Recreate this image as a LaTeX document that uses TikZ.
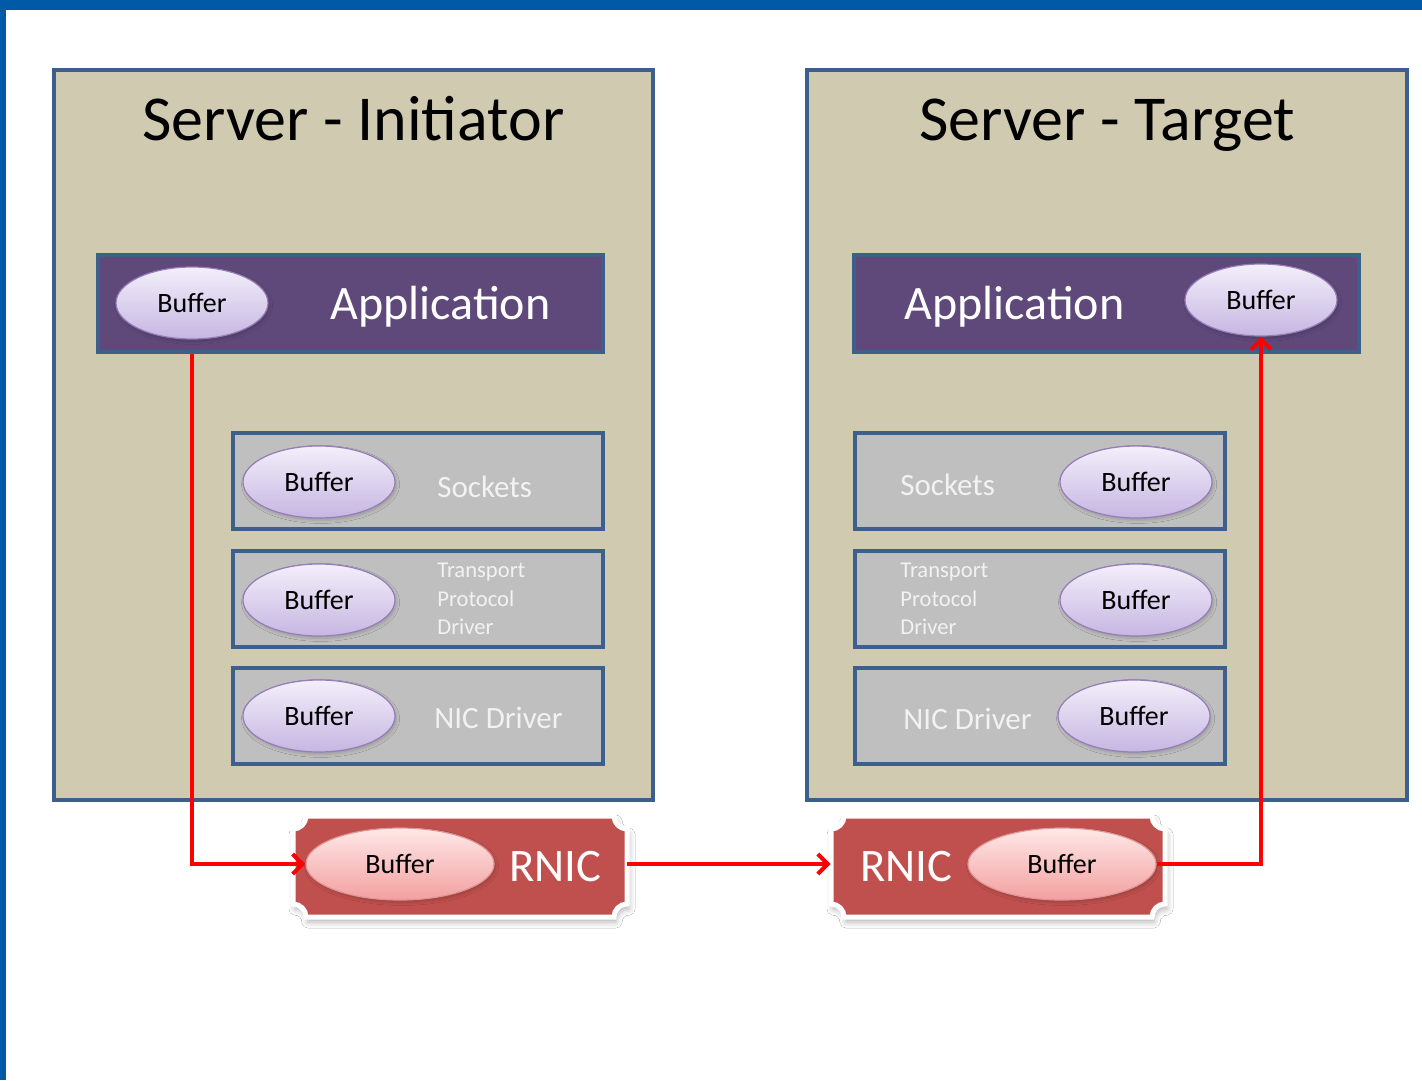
\documentclass[tikz,border=0pt]{standalone}
\usepackage{fontspec}
\setmainfont{Carlito}
\usetikzlibrary{shapes.geometric,arrows.meta,shadows.blur}

\definecolor{frameblue}{RGB}{0,90,168}
\definecolor{servertan}{RGB}{207,202,176}
\definecolor{edgeblue}{RGB}{60,95,140}
\definecolor{appviolet}{RGB}{95,73,122}
\definecolor{layergrey}{RGB}{191,191,191}
\definecolor{rnicred}{RGB}{192,80,77}
\definecolor{buftop}{RGB}{243,239,250}
\definecolor{bufbot}{RGB}{198,182,226}
\definecolor{bufedge}{RGB}{150,125,185}
\definecolor{rbuftop}{RGB}{255,232,232}
\definecolor{rbufbot}{RGB}{243,160,160}
\definecolor{rbufedge}{RGB}{225,150,150}
\definecolor{lighttext}{RGB}{242,242,242}

\begin{document}
\begin{tikzpicture}[x=0.5pt,y=-0.5pt,
  server/.style={draw=edgeblue, line width=1.6pt, fill=servertan, inner sep=0,
    minimum width=299.5pt, minimum height=365pt},
  appbar/.style={draw=edgeblue, line width=1.6pt, fill=appviolet, inner sep=0,
    minimum width=252.5pt, minimum height=48.5pt},
  layer/.style={draw=edgeblue, line width=2pt, fill=layergrey, inner sep=0,
    minimum width=185pt, minimum height=48pt},
  buf/.style={ellipse, draw=bufedge, line width=0.6pt, top color=buftop, bottom color=bufbot,
    minimum width=76pt, minimum height=36pt, inner sep=0, font=\fontsize{14}{16}\selectfont,
    blur shadow={shadow xshift=0.8pt, shadow yshift=-1.2pt, shadow blur radius=1.5pt, shadow opacity=18}},
  rbuf/.style={buf, draw=rbufedge, top color=rbuftop, bottom color=rbufbot, minimum width=94pt},
  plaque/.style={fill=rnicred, draw=white, line width=2.5pt,
    blur shadow={shadow xshift=1pt, shadow yshift=-2.5pt, shadow blur radius=3pt, shadow opacity=30}},
  title/.style={anchor=base, inner sep=0, font=\fontsize{32}{38}\selectfont},
  apptext/.style={anchor=base west, inner sep=0, text=white, font=\fontsize{24}{28}\selectfont},
  layertext/.style={anchor=base west, inner sep=0, text=lighttext, font=\fontsize{15.5}{18}\selectfont},
  smalltext/.style={anchor=west, inner sep=0, text=lighttext, align=left, font=\fontsize{11.3}{14.25}\selectfont},
  rnictext/.style={anchor=base west, inner sep=0, text=white, font=\fontsize{23.3}{28}\selectfont},
  link/.style={draw=red, line width=2pt, -{Straight Barb[length=5pt,width=10pt]}}
]
% page and frame
\useasboundingbox (0,0) rectangle (1422,1080);
\fill[white] (0,0) rectangle (1422,1080);
\fill[frameblue] (0,0) rectangle (1422,10);
\fill[frameblue] (0,0) rectangle (6,1080);

% servers
\node[server] (srvL) at (353.5,435) {};
\node[server, minimum width=300pt] (srvR) at (1107,435) {};
\node[title] (titleL) at (353.5,141) {Server - Initiator};
\node[title] (titleR) at (1107,141) {Server - Target};

% application bars
\node[appbar] (appL) at (350.5,303.5) {};
\node[appbar] (appR) at (1106.5,303.5) {};
\node[apptext] (appTxtL) at (330,320) {Application};
\node[apptext] (appTxtR) at (904,320) {Application};
\node[buf] (appBufL) at (192,303) {Buffer};
\node[buf] (appBufR) at (1261,300) {Buffer};

% stack layers, initiator side
\node[layer] (sockL) at (418,481) {};
\node[layer] (tpdL) at (418,599) {};
\node[layer] (nicL) at (418,716) {};
\node[buf] (sockBufL) at (319,482) {Buffer};
\node[buf] (tpdBufL) at (319,600) {Buffer};
\node[buf] (nicBufL) at (319,716) {Buffer};
\node[layertext] (sockTxtL) at (437,497) {Sockets};
\node[smalltext] (tpdTxtL) at (437,599) {Transport\\Protocol\\Driver};
\node[layertext] (nicTxtL) at (434,728) {NIC Driver};

% stack layers, target side
\node[layer] (sockR) at (1039.5,481) {};
\node[layer] (tpdR) at (1039.5,599) {};
\node[layer] (nicR) at (1039.5,716) {};
\node[buf] (sockBufR) at (1136,482) {Buffer};
\node[buf] (tpdBufR) at (1136,600) {Buffer};
\node[buf] (nicBufR) at (1134,716) {Buffer};
\node[layertext] (sockTxtR) at (900,495) {Sockets};
\node[smalltext] (tpdTxtR) at (900,599) {Transport\\Protocol\\Driver};
\node[layertext] (nicTxtR) at (903,729) {NIC Driver};

% RNIC plaques
\node[inner sep=0, minimum width=167pt, minimum height=50.5pt] (rnicL) at (460,866.5) {};
\node[inner sep=0, minimum width=167pt, minimum height=50.5pt] (rnicR) at (998,866.5) {};
\path[plaque] (306,816) -- (614,816) arc[start angle=180,end angle=90,radius=13]
  -- (627,904) arc[start angle=270,end angle=180,radius=13]
  -- (306,917) arc[start angle=360,end angle=270,radius=13]
  -- (293,829) arc[start angle=90,end angle=0,radius=13] -- cycle;
\path[plaque] (844,816) -- (1152,816) arc[start angle=180,end angle=90,radius=13]
  -- (1165,904) arc[start angle=270,end angle=180,radius=13]
  -- (844,917) arc[start angle=360,end angle=270,radius=13]
  -- (831,829) arc[start angle=90,end angle=0,radius=13] -- cycle;
\node[rbuf] (rbufL) at (400,864) {Buffer};
\node[rbuf] (rbufR) at (1062,864) {Buffer};
\node[rnictext] (rnicTxtL) at (509,881) {RNIC};
\node[rnictext] (rnicTxtR) at (860,881) {RNIC};

% data path
\draw[link] (appBufL.center |- appL.south) |- (rbufL.west);
\draw[link] (rnicL.east |- rbufL.center) -- (rnicR.west |- rbufL.center);
\draw[link] (rbufR.east) -| (appBufR.south);
\end{tikzpicture}
\end{document}
